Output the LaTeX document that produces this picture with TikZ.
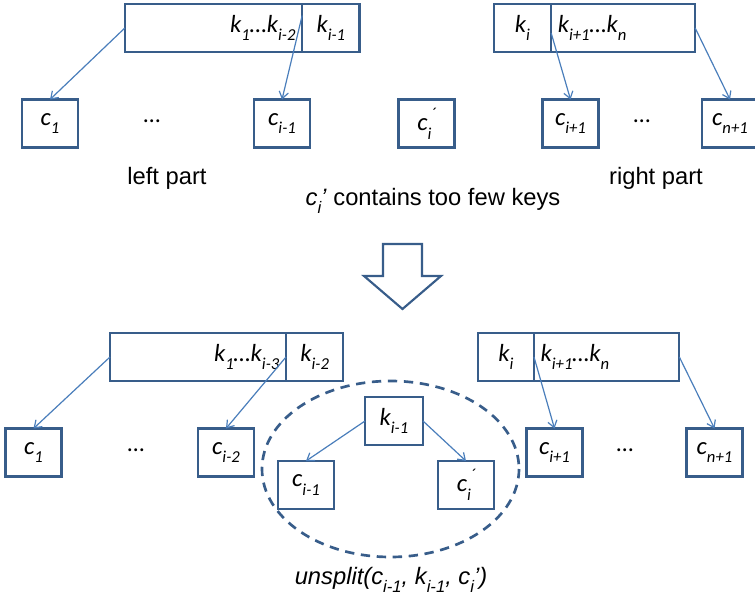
\documentclass[tikz,border=0pt]{standalone}
\usepackage{fontspec}
\setmainfont{Liberation Sans}
\newfontfamily\keyfont{Carlito}
\usetikzlibrary{arrows.meta, positioning}
\definecolor{boxblue}{HTML}{385D8A}
\definecolor{linkblue}{HTML}{4A7EBB}
\newcommand\lo[1]{\raisebox{-0.35em}{\fontsize{12.5}{12}\selectfont #1}}
\newcommand\acu{\kern-0.5pt\raisebox{0.45em}{\fontsize{12.5}{12}\selectfont ´}}

\begin{document}
\begin{tikzpicture}[
  x=0.75pt, y=-0.75pt, >={Straight Barb[length=5pt, width=7pt]},
  font=\fontsize{17.8}{20}\selectfont,
  keybox/.style={rectangle, draw=boxblue, line width=1.6pt, minimum height=36pt, outer sep=0pt, inner xsep=5pt, font=\keyfont\itshape\fontsize{18.5}{20}\selectfont},
  childbox/.style={keybox, minimum width=42pt},
  link/.style={->, draw=linkblue, line width=0.9pt},
  dots/.style={font=\keyfont\fontsize{18}{20}\selectfont}
]
  \useasboundingbox (0,0) rectangle (755,598);

  % before
  \node[keybox, text width=123pt, align=right] (kl1) at (213.5,28) {k\lo{1}…k\lo{i-2}};
  \node[keybox, minimum width=43pt, right=0pt of kl1] (kl2) {k\lo{i-1}};
  \node[keybox, minimum width=43pt] (kr1) at (522.5,28) {k\lo{i}};
  \node[keybox, text width=98pt, align=left, right=0pt of kr1] (kr2) {k\lo{i+1}…k\lo{n}};

  \node[childbox] (c1) at (50,123.5) {c\lo{1}};
  \node[dots] (d1) at (152,121) {…};
  \node[childbox] (cim1) at (282,123.5) {c\lo{i-1}};
  \node[childbox] (ci) at (426.5,123.5) {c\lo{i}\acu};
  \node[childbox] (cip1) at (570.5,123.5) {c\lo{i+1}};
  \node[dots] (d2) at (642,121) {…};
  \node[childbox] (cn1) at (730,123.5) {c\lo{n+1}};

  \node (leftpart) at (167,178) {left part};
  \node (rightpart) at (656,178) {right part};
  \node (few) at (433,201) {\textit{c\lo{i}’} contains too few keys};

  \draw[link] (kl1.west) -- (c1.north);
  \draw[link] (kl1.8) -- (cim1.north);
  \draw[link] (kr2.184) -- (cip1.north);
  \draw[link] (kr2.east) -- (cn1.north);

  \draw[boxblue, line width=1.6pt] (383,244) -- (422,244) -- (422,276) -- (441,276)
    -- (402.5,309) -- (364,276) -- (383,276) -- cycle;

  % after
  \node[keybox, text width=122pt, align=right] (bl1) at (198,357) {k\lo{1}…k\lo{i-3}};
  \node[keybox, minimum width=43pt, right=0pt of bl1] (bl2) {k\lo{i-2}};
  \node[keybox, minimum width=42pt] (br1) at (506,357) {k\lo{i}};
  \node[keybox, text width=99pt, align=left, right=0pt of br1] (br2) {k\lo{i+1}…k\lo{n}};

  \node[childbox] (b1) at (33.5,452.5) {c\lo{1}};
  \node[dots] (d3) at (136,450) {…};
  \node[childbox] (bim2) at (226,452.5) {c\lo{i-2}};
  \node[childbox, minimum width=43.5pt] (kim1) at (394,421) {k\lo{i-1}};
  \node[childbox] (bim1) at (306,485) {c\lo{i-1}};
  \node[childbox] (bi) at (466,485) {c\lo{i}\acu};
  \node[childbox] (bip1) at (554.5,452.5) {c\lo{i+1}};
  \node[dots] (d4) at (625,450) {…};
  \node[childbox] (bn1) at (714.5,452.5) {c\lo{n+1}};

  \draw[boxblue, line width=2pt, dash pattern=on 7pt off 5pt] (390.5,469) ellipse [x radius=128.5, y radius=88];
  \node (unsplit) at (391,580) {\textit{unsplit(c\lo{i-1}, k\lo{i-1}, c\lo{i}’)}};

  \draw[link] (bl1.west) -- (b1.north);
  \draw[link] (bl1.east) -- (bim2.north);
  \draw[link] (br2.west) -- (bip1.north);
  \draw[link] (br2.east) -- (bn1.north);
  \draw[link] (kim1.west) -- (bim1.north);
  \draw[link] (kim1.east) -- (bi.north);
\end{tikzpicture}
\end{document}
